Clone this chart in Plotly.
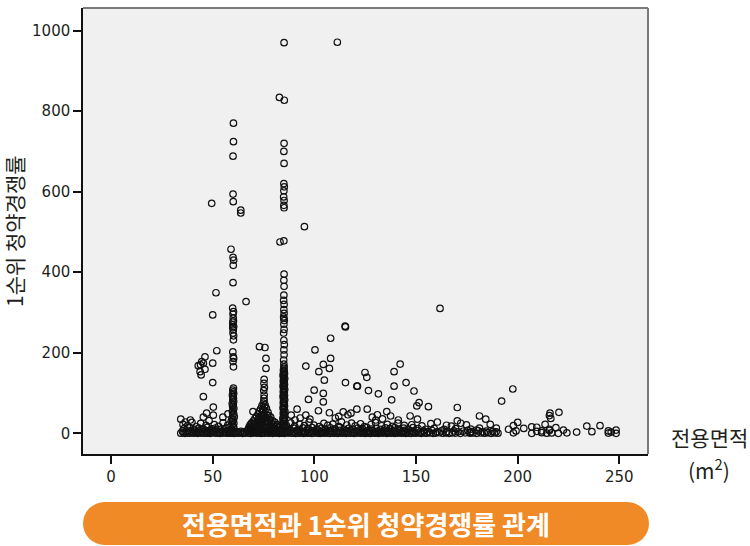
import plotly.graph_objects as go

# ---------------- data (전용면적 m², 1순위 청약경쟁률) ----------------
band_r0 = [(34.3,0.4),(35.6,1.2),(36.4,0.0),(37.8,0.9),(38.5,0.3),(39.9,1.5),(40.6,0.2),(41.8,0.8),(42.7,0.0),(43.9,1.3),
           (44.6,0.5),(45.8,0.1),(46.9,1.1),(47.6,0.4),(48.8,0.0),(49.5,1.6),(50.9,0.7),(51.7,0.2),(52.8,1.0),(53.6,0.0),
           (54.9,0.6),(55.7,1.4),(56.8,0.3),(57.9,0.9),(58.6,0.1),(59.4,1.2),(59.9,0.5),(60.5,0.0),(61.3,0.8),(62.6,0.2),
           (63.4,1.1),(64.7,0.0),(65.8,0.6),(66.6,1.3),(67.9,0.4),(68.7,0.0),(69.8,0.9),(70.6,1.5),(71.9,0.2),(72.7,0.7),
           (73.8,0.0),(74.6,1.0),(75.4,0.3),(76.8,1.4),(77.5,0.1),(78.9,0.8),(79.6,0.0),(80.8,1.2),(81.7,0.5),(82.9,0.0),
           (83.6,0.9),(84.4,0.2),(84.9,1.1),(85.3,0.0),(86.6,0.7),(87.4,1.3),(88.7,0.1),(89.5,0.6),(90.8,0.0),(91.6,1.0),
           (92.9,0.4),(93.7,1.5),(94.8,0.0),(95.6,0.8),(96.9,0.2),(97.7,1.2),(98.8,0.0),(99.6,0.6),(100.9,1.4),(101.7,0.3),
           (102.8,0.0),(103.6,0.9),(104.9,0.1),(105.7,1.1),(106.8,0.5),(107.6,0.0),(108.9,1.3),(109.7,0.2),(110.8,0.7),(111.6,0.0),
           (112.9,1.0),(113.7,0.4),(114.8,1.6),(115.6,0.0),(116.9,0.8),(117.7,0.3),(118.8,1.2),(119.6,0.0),(120.9,0.6),(121.7,1.4),
           (122.8,0.1),(123.6,0.9),(124.9,0.0),(125.7,1.1),(126.8,0.4),(127.6,0.0),(128.9,1.3),(129.7,0.2),(130.8,0.8),(131.6,0.0),
           (132.9,1.0),(133.7,0.5),(134.8,1.5),(135.6,0.0),(136.9,0.7),(137.7,0.3),(138.8,1.2),(139.6,0.0),(140.9,0.6),(141.7,1.4),
           (142.8,0.1),(143.6,0.9),(144.9,0.0),(145.7,1.1),(146.8,0.4),(147.6,0.0),(148.9,1.3),(149.7,0.2),(151.2,0.8),(152.6,0.0),
           (154.1,1.0),(155.3,0.3),(156.8,1.2),(158.4,0.0),(159.7,0.6),(161.5,1.4),(163.2,0.1),(164.8,0.9),(166.3,0.0),(167.9,1.1),
           (169.4,0.5),(171.8,0.0),(174.2,1.3),(176.6,0.2),(178.1,0.8),(179.8,0.0),(181.9,1.0),(183.7,0.4),(185.2,1.5),(186.9,0.0),
           (188.6,0.7),(190.3,0.3),(197.9,1.2),(206.9,0.0),(211.8,1.6),(214.3,0.2),(216.7,0.9),(220.0,0.0),(224.2,1.1),(244.6,0.5),
           (248.4,0.0)]

band_r1 = [(35.1,5.2),(36.9,3.8),(38.2,6.9),(39.4,4.5),(41.0,7.4),(42.3,3.6),(43.5,5.9),(45.1,4.2),(46.4,7.1),(47.9,3.9),
           (49.0,6.3),(50.3,4.8),(51.9,7.6),(53.1,3.5),(54.4,5.7),(55.9,4.1),(57.2,6.8),(58.3,5.0),(59.6,7.3),(60.7,4.4),
           (61.9,3.7),(63.9,4.9),(65.3,3.4),(66.9,6.2),(68.1,4.6),(69.3,7.8),(70.2,5.3),(71.4,3.9),(72.4,6.6),(73.3,4.3),
           (74.1,7.5),(75.8,5.6),(76.5,3.8),(77.8,6.4),(79.1,4.7),(80.3,7.2),(81.2,3.6),(82.4,5.8),(83.9,4.0),(85.6,6.1),
           (86.9,3.5),(88.2,6.7),(89.9,4.4),(91.2,7.0),(92.4,3.8),(93.9,5.5),(95.3,4.1),(96.5,7.3),(97.9,3.6),(99.2,6.0),
           (100.4,4.6),(101.9,7.7),(103.2,3.9),(104.4,5.4),(105.9,4.3),(107.2,6.9),(108.4,3.7),(109.9,5.8),(111.2,4.5),(112.5,7.2),
           (113.9,3.6),(115.2,6.3),(116.4,4.9),(117.9,7.5),(119.2,3.8),(120.5,5.6),(121.9,4.2),(123.2,7.0),(124.4,3.5),(125.9,6.1),
           (127.2,4.7),(128.4,7.4),(129.9,3.9),(131.2,5.7),(132.5,4.4),(133.9,6.8),(135.2,3.6),(136.4,5.3),(137.9,4.0),(139.2,7.1),
           (140.4,3.8),(141.9,6.5),(143.2,4.6),(144.5,7.3),(145.9,3.7),(147.2,5.9),(148.4,4.3),(150.6,6.4),(152.1,3.9),(153.8,5.5),
           (156.0,4.2),(157.9,7.0),(160.3,3.6),(162.4,5.8),(165.1,4.4),(168.6,6.2),(170.7,3.8),(173.1,5.1),(175.4,7.4),(177.3,4.0),
           (180.6,6.3),(182.8,3.7),(184.6,5.6),(187.8,4.8),(189.4,3.5),(199.2,6.0),(209.4,4.9),(215.6,7.1)]

band_r2 = [(35.9,11.4),(38.8,13.9),(40.9,9.7),(43.2,12.6),(45.4,10.3),(47.3,14.8),(49.7,11.1),(51.4,13.2),(53.8,9.5),(56.3,12.4),
           (58.1,14.6),(59.3,10.8),(60.4,13.5),(68.6,12.1),(70.1,14.3),(71.8,10.6),(73.0,13.7),(74.3,11.2),(76.2,14.1),(77.9,9.9),
           (79.5,12.8),(81.0,10.4),(82.6,13.3),(84.3,11.7),(85.9,14.5),(87.9,10.2),(89.8,12.9),(92.1,9.8),(94.4,13.6),(96.7,11.0),
           (98.9,14.2),(101.1,10.5),(103.5,12.7),(105.6,9.6),(107.9,13.8),(110.1,11.3),(112.4,14.7),(114.7,10.1),(116.9,12.5),(119.1,9.4),
           (121.4,13.1),(123.6,11.6),(125.9,14.4),(128.2,10.7),(130.4,12.3),(132.6,9.9),(134.9,13.4),(137.2,11.5),(139.5,14.0),(141.7,10.2),
           (143.9,12.8),(146.2,9.7),(148.5,13.9),(151.0,11.8),(154.7,10.0),(158.9,12.2),(163.8,9.6),(169.5,11.4),(176.9,10.3),(181.2,12.7)]

band_r3 = [(35.4,22.1),(37.6,18.5),(39.8,27.3),(41.9,16.9),(44.1,24.6),(46.7,19.8),(48.2,31.4),(50.8,21.7),(52.9,17.3),(55.1,26.2),
           (57.4,20.4),(59.1,29.8),(68.9,23.5),(70.9,18.1),(72.2,28.7),(73.6,20.9),(77.1,24.2),(79.9,17.6),(81.8,21.3),(83.1,16.4),
           (86.3,19.2),(88.4,25.7),(90.3,17.8),(92.7,22.6),(95.1,18.9),(97.4,27.9),(99.8,20.1),(102.4,16.7),(104.7,24.8),(106.6,19.5),
           (109.1,22.9),(111.9,17.1),(113.3,28.4),(115.9,20.6),(118.3,25.3),(120.1,18.2),(122.7,23.7),(124.6,16.6),(127.9,21.9),(130.1,26.8),
           (133.1,18.8),(135.9,22.4),(138.4,17.4),(141.1,25.1),(144.2,19.6),(147.9,21.2),(152.9,18.4),(157.3,23.9),(167.4,17.9),(174.8,20.8)]

col60 = [(60.1,17),(59.6,21),(60.4,25),(59.8,29),(60.2,33),(59.5,37),(60.6,41),(59.9,45),(60.3,49),(59.7,54),
         (60.0,58),(60.4,62),(59.8,67),(60.1,71),(59.6,74),(60.3,79),(59.9,83),(60.2,87),(60.0,91),(59.7,95),
         (60.3,99),(60.1,103),(59.9,107),(60.2,112),(60.2,165),(60.0,178),(60.3,186),(60.1,190),(59.9,202),(60.2,232),
         (60.3,242),(60.0,249),(60.1,257),(59.9,262),(60.3,265),(59.9,269),(59.9,276),(60.2,279),(60.1,286),(60.0,296),
         (60.2,302),(59.8,311),(60.0,374),(60.1,417),(60.3,430),(60.0,437),(59.0,457),(60.1,575),(60.0,594),(60.0,688),
         (60.2,724),(60.2,770)]

col75 = [(67.4,9),(67.8,15),(68.3,8),(68.8,18),(69.2,26),(69.6,12),(70.0,31),(70.4,22),(70.8,37),(71.2,16),
         (71.6,42),(72.0,29),(72.4,48),(72.7,35),(73.0,55),(73.3,21),(73.6,61),(73.9,44),(74.2,68),(74.5,52),
         (74.7,33),(74.9,75),(75.1,58),(75.3,80),(75.5,47),(75.8,70),(76.1,38),(76.4,62),(76.8,28),(77.2,52),
         (77.6,44),(78.0,34),(78.5,40),(79.0,25),(79.5,31),(80.0,22),(80.6,27),(81.2,17),(81.8,21),(82.4,14),
         (83.0,18),(83.6,9),(74.0,40),(75.6,65),(72.9,40),(76.9,45),(78.3,20),(70.6,10),(75.2,87),(75.3,95),
         (75.1,106),(75.4,114),(75.2,124),(75.3,134),(71.0,24),(72.2,19),(73.4,30),(74.4,24),(75.0,36),(75.7,28),
         (76.6,20),(77.4,30),(78.8,12),(80.3,12),(73.8,12),(75.2,16),(74.6,60),(75.0,44)]

col85 = [(84.9,16),(85.2,19),(84.6,23),(85.0,25),(85.4,29),(84.8,31),(85.1,35),(84.5,37),(85.3,40),(84.9,44),
         (85.2,46),(84.7,50),(85.0,52),(85.5,55),(84.8,59),(85.1,61),(84.6,64),(85.3,68),(84.9,70),(85.2,74),
         (84.7,76),(85.0,79),(85.4,83),(84.8,85),(85.1,88),(84.6,92),(85.3,94),(84.9,97),(85.2,101),(84.7,103),
         (85.0,107),(85.4,109),(84.8,112),(85.1,116),(84.6,118),(85.3,121),(84.9,125),(85.2,127),(84.7,130),(85.0,134),
         (85.4,136),(84.8,139),(85.1,143),(84.6,145),(85.3,148),(84.9,152),(85.2,154),(84.8,157),(85.0,161),(85.1,165),
         (85.0,172),(84.9,182),(85.1,195),(85.0,207),(85.2,220),(85.0,231),(84.9,249),(85.1,258),(85.0,271),(85.2,280),
         (85.0,285),(84.9,289),(85.1,298),(85.0,307),(85.1,320),(84.9,330),(85.0,343),(85.1,365),(85.0,380),(85.1,395),
         (83.1,475),(85.0,478),(85.1,560),(85.0,566),(85.1,578),(84.9,587),(85.0,602),(85.2,612),(85.0,620),(85.1,670),
         (85.0,700),(85.1,720),(85.2,827),(82.8,834),(85.1,970)]

scatter_pts = [(49.5,571),(63.8,547),(63.8,554),(95.1,513),(111.3,971),(51.6,349),(66.4,327),(50.0,294),(73.0,215),(75.7,213),
               (76.2,186),(76.2,161),(52.0,205),(46.2,190),(45.4,174),(44.6,178),(42.9,168),(44.0,170),(43.8,153),(44.3,145),
               (46.2,159),(50.0,174),(50.0,126),(45.4,91),(50.3,65),(34.3,35),(45.4,40),(50.3,45),(69.8,54),(68.4,21),
               (100.3,207),(95.8,167),(108.0,236),(108.0,186),(104.4,171),(102.2,153),(107.4,161),(104.9,132),(99.9,107),(104.4,99),
               (97.1,84),(104.4,78),(95.8,45),(102.0,56),(107.4,51),(90.5,33),(115.1,266),(115.3,264),(115.3,126),(120.9,117),
               (124.9,151),(125.8,139),(121.2,117),(126.6,106),(131.5,98),(139.2,153),(142.2,172),(139.2,117),(145.1,126),(149.0,105),
               (138.0,83),(151.5,76),(150.4,68),(156.1,66),(170.3,64),(161.8,310),(197.6,110),(192.1,80),(135.6,54),(137.5,43),
               (120.9,60),(147.1,43),(150.7,35),(141.3,33),(170.3,31),(181.2,43),(184.3,35),(197.9,19),(200.0,27),(215.9,50),
               (220.3,52),(216.3,37),(215.6,44),(206.9,16),(209.4,15),(215.6,10),(234.0,18),(240.5,19),(244.6,6),(248.4,8),
               (211.8,6),(176.6,2),(179.8,8),(118.0,50),(114.2,53),(116.5,46),(112.0,42),(128.5,40),(131.0,46),(133.5,36),
               (110.3,38),(93.0,38),(97.8,35),(36.5,28),(39.0,33),(47.0,50),(55.0,40),(57.5,48),(91.5,60),(88.6,45),
               (126.0,60),(130.2,33),(160.5,28),(165.0,20),(172.0,25),(186.5,22),(189.5,13),(195.5,10),(203.0,12),(213.5,22),
               (218.8,14),(222.5,8),(229.0,3),(236.5,4),(246.0,3)]

x_ticks = [0, 50, 100, 150, 200, 250]
y_ticks = [0, 200, 400, 600, 800, 1000]

groups = [band_r0, band_r1, band_r2, band_r3, col60, col75, col85, scatter_pts]
area = [p[0] for g in groups for p in g]
ratio = [p[1] for g in groups for p in g]

# ---------------- figure ----------------
L, R, T, B = 83, 102, 8, 92
W, H = 750, 546
pw, ph = W - L - R, H - T - B

def px(xp):
    return (xp - L) / pw

def py(yp):
    return (H - B - yp) / ph

fig = go.Figure()
fig.add_trace(go.Scatter(
    x=area, y=ratio, mode="markers",
    marker=dict(symbol="circle-open", size=6.5, color="#111111", line=dict(width=1.2)),
    hoverinfo="skip", showlegend=False,
))

tickfont = dict(family="DejaVu Sans", size=15, color="#231f20")
fig.update_layout(
    width=W, height=H,
    margin=dict(l=L, r=R, t=T, b=B, pad=0),
    paper_bgcolor="white", plot_bgcolor="#f0f0f0",
    xaxis=dict(range=[-13.8, 264.1], tickvals=x_ticks, ticks="outside", ticklen=8, tickwidth=2,
               tickcolor="#111111", showgrid=False, zeroline=False, showline=True,
               linecolor="#111111", linewidth=1.5, tickfont=tickfont),
    yaxis=dict(range=[-51.4, 1056], tickvals=y_ticks, ticks="outside", ticklen=8, tickwidth=2,
               tickcolor="#111111", showgrid=False, zeroline=False, showline=True,
               linecolor="#111111", linewidth=1.5, tickfont=tickfont),
)

# top/right frame in grey
fig.add_shape(type="line", xref="paper", yref="paper", x0=0, x1=1, y0=1, y1=1,
              line=dict(color="#7a7a7a", width=2))
fig.add_shape(type="line", xref="paper", yref="paper", x0=1, x1=1, y0=0, y1=1,
              line=dict(color="#7a7a7a", width=2))

# orange pill banner
orange = "#EF8A26"
bx0, bx1, by0, by1 = 83, 649, 502, 545
r = (by1 - by0) / 2
fig.add_shape(type="rect", xref="paper", yref="paper", x0=px(bx0 + r), x1=px(bx1 - r),
              y0=py(by1), y1=py(by0), fillcolor=orange, line=dict(width=0), layer="above")
for cx in (bx0 + r, bx1 - r):
    fig.add_shape(type="circle", xref="paper", yref="paper", x0=px(cx - r), x1=px(cx + r),
                  y0=py(by1), y1=py(by0), fillcolor=orange, line=dict(width=0), layer="above")

kfont = "Noto Sans CJK KR"
fig.add_annotation(text="전용면적과 1순위 청약경쟁률 관계", xref="paper", yref="paper",
                   x=px((bx0 + bx1) / 2), y=py((by0 + by1) / 2), showarrow=False,
                   font=dict(family=kfont, size=26, color="white", weight=700),
                   xanchor="center", yanchor="middle")

# axis titles
fig.add_annotation(text="1순위 청약경쟁률", xref="paper", yref="paper", x=px(14), y=py(231),
                   textangle=-90, showarrow=False, xanchor="center", yanchor="middle",
                   font=dict(family=kfont, size=21, color="#231f20"))
fig.add_annotation(text="전용면적", xref="paper", yref="paper", x=px(709), y=py(437),
                   showarrow=False, xanchor="center", yanchor="middle",
                   font=dict(family=kfont, size=21, color="#231f20"))
fig.add_annotation(text="(m<sup>2</sup>)", xref="paper", yref="paper", x=px(709), y=py(469),
                   showarrow=False, xanchor="center", yanchor="middle",
                   font=dict(family=kfont, size=21, color="#231f20"))

fig.write_html("out.html", config={"displayModeBar": False},
               post_script="document.body.style.margin='0';document.body.style.overflow='hidden';")
